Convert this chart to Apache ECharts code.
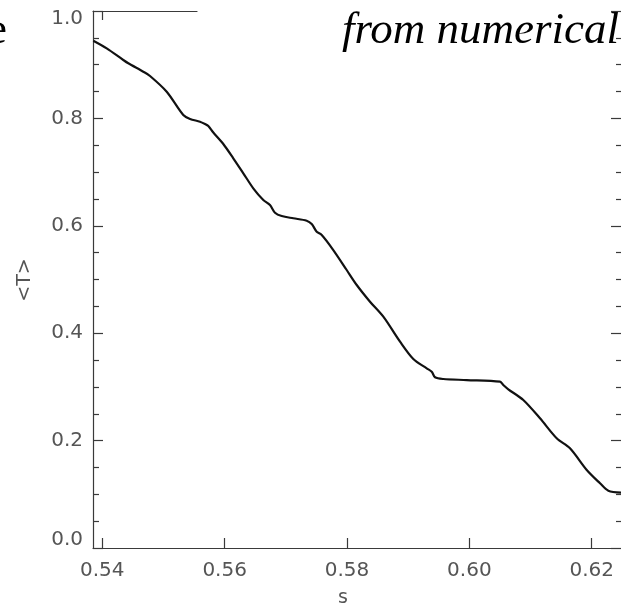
<!DOCTYPE html>
<html><head><meta charset="utf-8">
<script src="https://cdn.jsdelivr.net/npm/echarts@6/dist/echarts.min.js"></script>
<style>html,body{margin:0;padding:0;background:#fff}#c{width:621px;height:606px}</style>
</head><body><div id="c"></div>
<script>
// s values (x) and <T> values (y)
const sValues = [0.53853,0.54072,0.54343,0.54425,0.54670,0.54780,0.55053,0.55324,0.55434,0.55597,
  0.55679,0.55733,0.55815,0.55978,0.56141,0.56305,0.56468,0.56632,0.56741,0.56823,
  0.56933,0.57122,0.57341,0.57423,0.57505,0.57587,0.57776,0.57995,0.58159,0.58376,
  0.58594,0.58867,0.59084,0.59303,0.59385,0.59439,0.59574,0.59957,0.60501,0.60555,
  0.60637,0.60882,0.61155,0.61428,0.61645,0.61919,0.62136,0.62272,0.62479];
const tValues = [0.9447,0.9305,0.9088,0.9026,0.8870,0.8790,0.8497,0.8063,0.7989,0.7939,
  0.7896,0.7858,0.7737,0.7523,0.7257,0.6978,0.6698,0.6480,0.6387,0.6244,
  0.6182,0.6140,0.6095,0.6034,0.5890,0.5829,0.5549,0.5177,0.4898,0.4587,
  0.4307,0.3842,0.3520,0.3346,0.3283,0.3179,0.3147,0.3128,0.3097,0.3035,
  0.2955,0.2756,0.2415,0.2043,0.1857,0.1453,0.1205,0.1067,0.1030];
const xTicks = [0.54, 0.56, 0.58, 0.60, 0.62];
const topTicks = [0.54];
const yTicks = [0.0, 0.2, 0.4, 0.6, 0.8, 1.0];

const axisColor = '#3a3a3a';
const labelFont = {fontFamily: 'DejaVu Sans', fontSize: 20, color: '#555'};

const chart = echarts.init(document.getElementById('c'), null, {renderer: 'canvas'});
chart.setOption({
  animation: false,
  backgroundColor: '#fff',
  grid: [
    {left: 93, top: 11, width: 528, height: 537, outerBoundsMode: 'none', containLabel: false},
    {left: 93, top: 11, width: 104, height: 537, outerBoundsMode: 'none', containLabel: false}
  ],
  xAxis: [
    {
      type: 'value', gridIndex: 0, min: 0.53848, max: 0.62479, position: 'bottom',
      axisLine: {show: true, onZero: false, lineStyle: {color: axisColor, width: 1.2}},
      axisTick: {show: true, inside: true, length: 10, customValues: xTicks, lineStyle: {color: axisColor, width: 1.2}},
      axisLabel: Object.assign({show: true, margin: 13, customValues: xTicks,
        formatter: v => Number(v).toFixed(2)}, labelFont),
      splitLine: {show: false}
    },
    {
      type: 'value', gridIndex: 1, min: 0.53848, max: 0.55548, position: 'top',
      axisLine: {show: true, onZero: false, lineStyle: {color: axisColor, width: 1.2}},
      axisTick: {show: true, inside: true, length: 9, customValues: topTicks, lineStyle: {color: axisColor, width: 1.2}},
      axisLabel: {show: false},
      splitLine: {show: false}
    }
  ],
  yAxis: [
    {
      type: 'value', gridIndex: 0, min: 0, max: 1, interval: 0.2, position: 'left',
      axisLine: {show: true, onZero: false, lineStyle: {color: axisColor, width: 1.2}},
      axisTick: {show: true, inside: true, length: 10, lineStyle: {color: axisColor, width: 1.2}},
      minorTick: {show: true, splitNumber: 4, length: 6, lineStyle: {color: axisColor, width: 1.2}},
      axisLabel: Object.assign({show: true, margin: 10, lineHeight: 16, formatter: v => Number(v).toFixed(1),
        verticalAlignMinLabel: 'bottom', verticalAlignMaxLabel: 'top'}, labelFont),
      splitLine: {show: false}, minorSplitLine: {show: false}
    },
    {
      type: 'value', gridIndex: 0, min: 0, max: 1, interval: 0.2, position: 'right',
      axisLine: {show: false},
      axisTick: {show: true, inside: true, length: 10, lineStyle: {color: axisColor, width: 1.2}},
      minorTick: {show: true, splitNumber: 4, length: 5, lineStyle: {color: axisColor, width: 1.2}},
      axisLabel: {show: false},
      splitLine: {show: false}, minorSplitLine: {show: false}
    },
    {
      type: 'value', gridIndex: 1, min: 0, max: 1, show: false
    }
  ],
  series: [{
    type: 'line', xAxisIndex: 0, yAxisIndex: 0,
    data: sValues.map((s, i) => [s, tValues[i]]),
    showSymbol: false, smooth: 0.3,
    lineStyle: {color: '#111', width: 2.2}
  }],
  graphic: [
    {type: 'text', x: 25, y: 280, rotation: Math.PI / 2,
      style: {text: '<T>', fontFamily: 'DejaVu Sans', fontSize: 19, fill: '#555', textAlign: 'center', textVerticalAlign: 'middle'}},
    {type: 'text', x: 343, y: 598,
      style: {text: 's', fontFamily: 'DejaVu Sans', fontSize: 19, fill: '#555', textAlign: 'center', textVerticalAlign: 'middle'}},
    {type: 'text', x: 619, y: 9,
      style: {text: 'from numerical', fontFamily: 'Liberation Serif', fontStyle: 'italic', fontSize: 45, fill: '#000', textAlign: 'right', textVerticalAlign: 'top'}},
    {type: 'text', x: 7, y: 9,
      style: {text: 'e', fontFamily: 'Liberation Serif', fontSize: 45, fill: '#000', textAlign: 'right', textVerticalAlign: 'top'}}
  ]
});
</script>
</body></html>
